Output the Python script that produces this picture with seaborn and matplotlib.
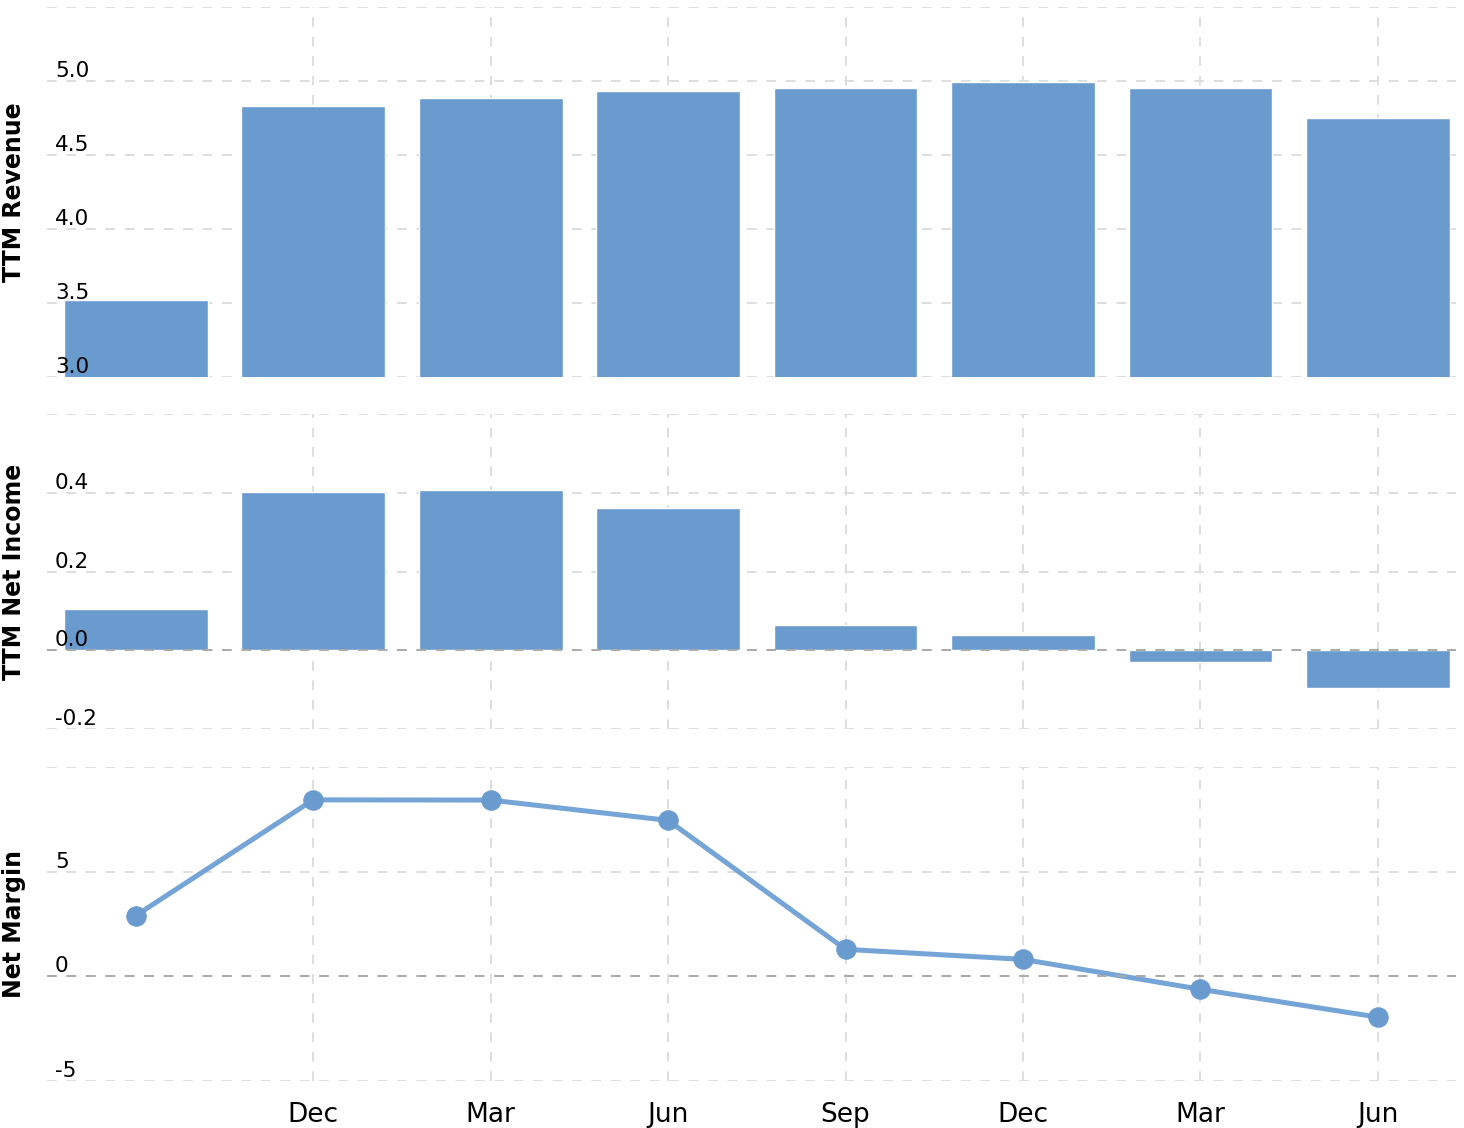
import matplotlib
matplotlib.use("Agg")
import matplotlib.pyplot as plt
import matplotlib.transforms as mtransforms
import seaborn as sns
import numpy as np
import pandas as pd

# ---- data ----
periods = ["Sep", "Dec", "Mar", "Jun", "Sep", "Dec", "Mar", "Jun"]
revenue = [3.52, 4.83, 4.885, 4.93, 4.955, 4.995, 4.955, 4.75]
net_income = [0.104, 0.402, 0.408, 0.362, 0.063, 0.038, -0.030, -0.096]
net_margin = [2.9, 8.43, 8.42, 7.45, 1.29, 0.81, -0.62, -1.95]

rev_ticks = [3.0, 3.5, 4.0, 4.5, 5.0, 5.5]
ni_ticks = [-0.2, 0.0, 0.2, 0.4, 0.6]
nm_ticks = [-5, 0, 5, 10]

sns.set_theme(style="white")
plt.rcParams["font.family"] = ["DejaVu Sans"]

BAR = "#6a9bcf"
LINE = "#75a4d7"
GRID = "#dedede"
ZERO = "#aaaaaa"

df = pd.DataFrame({"idx": np.arange(len(periods)), "period": periods,
                   "revenue": revenue, "net_income": net_income,
                   "net_margin": net_margin})

fig = plt.figure(figsize=(14.64, 11.28), dpi=100)
L, W = 47 / 1464, (1456 - 47) / 1464
def rect(top, bot):
    return [L, 1 - bot / 1128, W, (bot - top) / 1128]

ax1 = fig.add_axes(rect(7, 377))
ax2 = fig.add_axes(rect(414, 729))
ax3 = fig.add_axes(rect(767, 1081))

sns.barplot(data=df, x="idx", y="revenue", native_scale=True, width=0.81,
            color=BAR, saturation=1, ax=ax1, zorder=2)
sns.barplot(data=df, x="idx", y="net_income", native_scale=True, width=0.81,
            color=BAR, saturation=1, ax=ax2, zorder=2)
sns.lineplot(data=df, x="idx", y="net_margin", color=LINE, linewidth=3.6,
             marker="o", markersize=14, markerfacecolor=BAR,
             markeredgecolor=BAR, ax=ax3, zorder=3)

def style(ax, ticks, fmt, ylim, label, zero=False):
    ax.set_xlim(-0.5, 7.44)
    ax.set_ylim(*ylim)
    ax.set_yticks(ticks)
    ax.set_yticklabels([])
    ax.set_xticks(range(1, len(periods)))
    ax.set_xticklabels([])
    ax.tick_params(length=0)
    for s in ax.spines.values():
        s.set_visible(False)
    ax.set_axisbelow(True)
    ax.grid(True, axis="both", color=GRID, linestyle=(0, (5, 5)), linewidth=1.4)
    ax.set_xlabel("")
    ax.set_ylabel(label, fontsize=17, fontweight="bold", color="black")
    ax.yaxis.label.set_verticalalignment("center")
    ax.yaxis.set_label_coords(-33 / 1409, 0.5)
    trans = mtransforms.blended_transform_factory(ax.transAxes, ax.transData)
    for t in ticks[:-1]:
        ax.text(8 / 1409, t, fmt(t), transform=trans, ha="left", va="bottom",
                fontsize=15.5, color="black")
    if zero:
        ax.axhline(0, color=ZERO, linestyle=(0, (5, 5)), linewidth=1.4, zorder=5)

style(ax1, rev_ticks, lambda v: f"{v:.1f}", (3.0, 5.5), "TTM Revenue")
style(ax2, ni_ticks, lambda v: f"{v:.1f}", (-0.2, 0.6), "TTM Net Income", zero=True)
style(ax3, nm_ticks, lambda v: f"{v:d}", (-5, 10), "Net Margin", zero=True)

ax3.set_xticklabels(periods[1:], fontsize=19, color="black")
ax3.tick_params(axis="x", pad=15)

fig.savefig("out.png", dpi=100, facecolor="white")
